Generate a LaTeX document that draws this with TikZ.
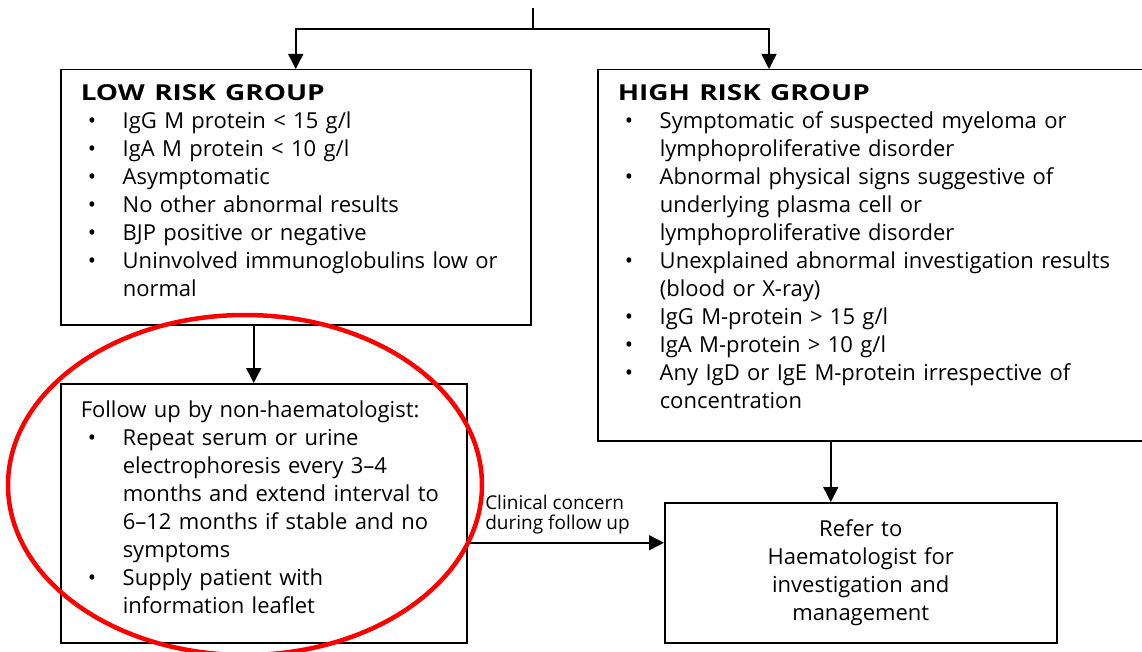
\documentclass[tikz,border=0pt]{standalone}
\usepackage{fontspec}
\setmainfont{Open Sans}
\usetikzlibrary{positioning, arrows.meta, calc}

% bullet line with hanging indent
\newcommand{\bitem}[1]{\par\hangindent=42pt\hangafter=1\noindent\makebox[42pt][l]{\hspace{7pt}\textbullet}#1}
% wide bold heading
\newcommand{\grouphead}[1]{\scalebox{1.27}[1]{\textbf{#1}}}

\begin{document}
\begin{tikzpicture}[
    x=1pt, y=-1pt,
    box/.style={draw, rectangle, line width=1.5pt, align=left, anchor=north west, inner xsep=20pt, inner ysep=0pt, font=\fontsize{22}{28}\selectfont},
    arr/.style={-{Triangle[width=15pt, length=15pt]}, line width=1.5pt},
    lbl/.style={font=\fontsize{19}{20}\selectfont, align=left, inner sep=0pt}
]
    \useasboundingbox (0,0) rectangle (1142,652);

    % Risk groups
    \node[box, text width=430pt, minimum height=255pt] (low) at (60,69) {\grouphead{LOW RISK GROUP}
        \bitem{IgG M protein < 15 g/l}
        \bitem{IgA M protein < 10 g/l}
        \bitem{Asymptomatic}
        \bitem{No other abnormal results}
        \bitem{BJP positive or negative}
        \bitem{Uninvolved immunoglobulins low or\newline normal}\par\kern14pt};
    \node[box, text width=560pt, minimum height=371pt] (high) at (597,69) {\grouphead{HIGH RISK GROUP}
        \bitem{Symptomatic of suspected myeloma or\newline lymphoproliferative disorder}
        \bitem{Abnormal physical signs suggestive of\newline underlying plasma cell or\newline lymphoproliferative disorder}
        \bitem{Unexplained abnormal investigation results\newline (blood or X-ray)}
        \bitem{IgG M-protein > 15 g/l}
        \bitem{IgA M-protein > 10 g/l}
        \bitem{Any IgD or IgE M-protein irrespective of\newline concentration}\par\kern18pt};

    % Follow up and referral
    \node[box, text width=366pt, minimum height=259pt] (follow) at (60,383) {Follow up by non-haematologist:
        \bitem{Repeat serum or urine\newline electrophoresis every 3--4\newline months and extend interval to\newline 6--12 months if stable and no\newline symptoms}
        \bitem{Supply patient with\newline information leaflet}\par\kern12pt};
    \node[box, align=center, text width=352pt, minimum height=140pt] (refer) at (664,502) {Refer to\\Haematologist for\\investigation and\\management};

    % Connectors
    \coordinate (top) at (533,8);
    \coordinate (split) at (533,29);
    \draw[line width=1.5pt] (top) -- (split);
    \draw[arr] (split) -| (low.north);
    \draw[arr] (split) -| ([xshift=172pt]high.north west);
    \draw[arr] ([xshift=-42pt]low.south) -- ([xshift=-10pt]follow.north);
    \draw[arr] ([xshift=-30pt]refer.north |- high.south) -- ([xshift=-30pt]refer.north);
    \draw[arr] ([yshift=-29.5pt]follow.east) -- ([yshift=-29.5pt]follow.east -| refer.west)
        node[lbl, pos=0, anchor=south west, xshift=17pt, yshift=8pt] {Clinical concern\\during follow up};

    % Highlight
    \draw[red, line width=4.5pt] (245,485) ellipse [x radius=237, y radius=170];
\end{tikzpicture}
\end{document}
